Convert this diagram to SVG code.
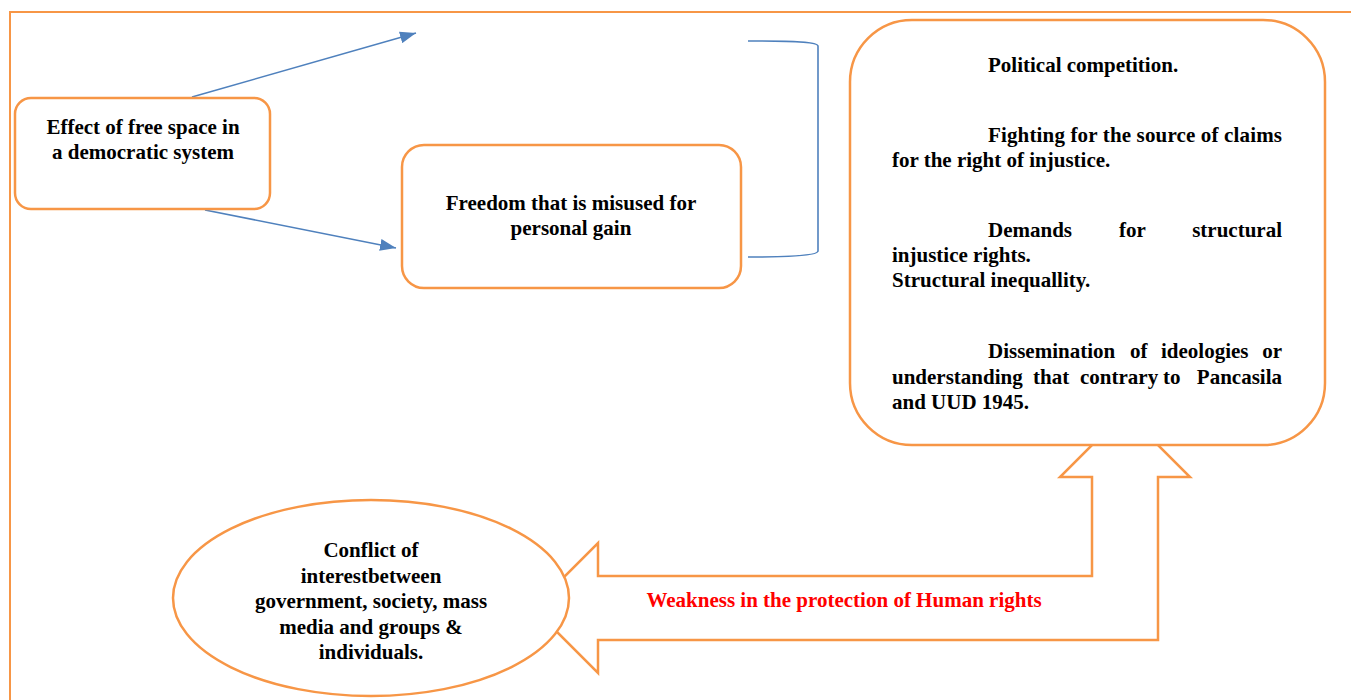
<svg xmlns="http://www.w3.org/2000/svg" width="1351" height="700" viewBox="0 0 1351 700">
<defs>
<style>
.box{fill:#fff;stroke:#F79646;stroke-width:2.5}
.frame{fill:none;stroke:#F79646;stroke-width:2}
.con{fill:none;stroke:#4F81BD;stroke-width:1.6}
text{font-weight:bold;font-size:21px;fill:#000}
.c{text-anchor:middle}
.e{text-anchor:end}
.red{fill:#FF0000}
</style>
<marker id="ahb" viewBox="0 0 16 12" refX="16" refY="6" markerWidth="16" markerHeight="12" markerUnits="userSpaceOnUse" orient="auto">
<path d="M0,0 L16,6 L0,12 z" fill="#4F81BD"/>
</marker>
</defs>
<rect width="1351" height="700" fill="#fff"/>
<path class="frame" d="M10,700 L10,12 L1351,12"/>

<g id="connectors">
<line class="con" x1="192" y1="97" x2="416" y2="33" marker-end="url(#ahb)"/>
<line class="con" x1="205" y1="210" x2="396" y2="248" marker-end="url(#ahb)"/>
<path class="con" d="M748,41 C795,41 818,42 818,46 L818,251 C818,255 795,257 748,257"/>
</g>

<g font-family="Liberation Serif, Times New Roman, serif">
<g id="bent-arrow">
<path class="box" d="M598,543 L598,576 L1092,576 L1092,477 L1060,477 L1125,412 L1190,477 L1158,477 L1158,640 L598,640 L598,673 L533,608 Z"/>
<text class="red" x="844" y="607" text-anchor="middle">Weakness in the protection of Human rights</text>
</g>

<g id="node-effect">
<rect class="box" x="15" y="98" width="255" height="111" rx="16"/>
<text class="c" x="143" y="134">Effect of free space in</text>
<text class="c" x="143" y="159">a democratic system</text>
</g>

<g id="node-freedom">
<rect class="box" x="402" y="145" width="339" height="143" rx="22"/>
<text class="c" x="571" y="210">Freedom that is misused for</text>
<text class="c" x="571" y="235">personal gain</text>
</g>

<g id="node-list">
<rect class="box" x="850" y="20" width="475" height="425" rx="62"/>
<text x="988" y="72">Political competition.</text>
<text x="988" y="142" textLength="294" lengthAdjust="spacing">Fighting for the source of claims</text>
<text x="892" y="167">for the right of injustice.</text>
<text x="988" y="237">Demands</text>
<text x="1119" y="237">for</text>
<text class="e" x="1282" y="237">structural</text>
<text x="892" y="262">injustice rights.</text>
<text x="892" y="287">Structural inequallity.</text>
<text x="988" y="358">Dissemination</text>
<text x="1130" y="358">of</text>
<text x="1161" y="358">ideologies</text>
<text class="e" x="1282" y="358">or</text>
<text x="892" y="384">understanding</text>
<text x="1033" y="384">that</text>
<text x="1080" y="384">contrary</text>
<text x="1163" y="384">to</text>
<text class="e" x="1282" y="384">Pancasila</text>
<text x="892" y="409">and UUD 1945.</text>
</g>

<g id="node-conflict">
<ellipse class="box" cx="371" cy="598" rx="198" ry="98"/>
<text class="c" x="371" y="557">Conflict of</text>
<text class="c" x="371" y="583">interestbetween</text>
<text class="c" x="371" y="608">government, society, mass</text>
<text class="c" x="371" y="634">media and groups &amp;</text>
<text class="c" x="371" y="659">individuals.</text>
</g>
</g>
</svg>
